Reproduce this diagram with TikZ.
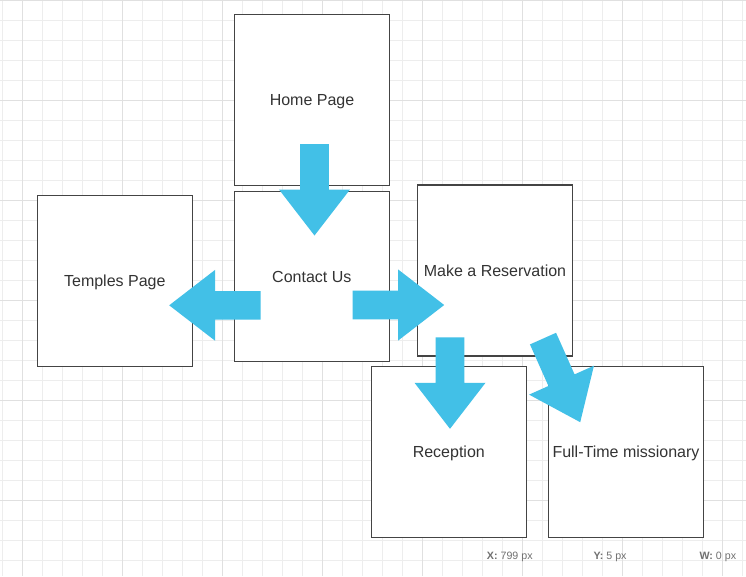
\documentclass[tikz,border=0pt]{standalone}
\usepackage{fontspec}
\setmainfont{Liberation Sans}
\definecolor{gridminor}{HTML}{EDEDED}
\definecolor{gridmajor}{HTML}{E0E0E0}
\definecolor{boxline}{HTML}{444444}
\definecolor{boxtext}{HTML}{333333}
\definecolor{arrowblue}{RGB}{66,192,231}
\definecolor{statustext}{HTML}{707070}
\tikzset{
  pagebox/.style={rectangle, draw=boxline, line width=1pt, fill=white,
    inner sep=0pt, minimum width=116.25pt, minimum height=128.25pt,
    font=\fontsize{12}{14}\selectfont, text=boxtext,
    text height=0.9em, text depth=0pt},
  status/.style={anchor=base west, inner sep=0pt,
    font=\fontsize{8}{9.5}\selectfont, text=statustext},
  % block arrow pointing down from its origin (shaft top centre)
  blockarrow/.pic={
    \fill[arrowblue] (-14.3,0) -- (14.3,0) -- (14.3,45.5) -- (35.5,45.5)
      -- (0,91.5) -- (-35.5,45.5) -- (-14.3,45.5) -- cycle;
  }
}
\begin{document}
\begin{tikzpicture}[x=0.75pt,y=-0.75pt]
\useasboundingbox (0,0) rectangle (746,576);
\fill[white] (0,0) rectangle (746,576);

% background grid
\foreach \gx in {2.7,22.7,...,742.7}
  \draw[gridminor, line width=0.75pt] (\gx,0) -- (\gx,576);
\foreach \gy in {0.7,20.7,...,570.7}
  \draw[gridminor, line width=0.75pt] (0,\gy) -- (746,\gy);
\foreach \gx in {22.7,122.7,...,722.7}
  \draw[gridmajor, line width=0.75pt] (\gx,0) -- (\gx,576);
\foreach \gy in {0.7,100.7,...,500.7}
  \draw[gridmajor, line width=0.75pt] (0,\gy) -- (746,\gy);

% pages
\node[pagebox] (home) at (312,99.8) {Home Page};
\node[pagebox, minimum height=127.5pt] (contact) at (311.8,276.2) {Contact Us};
\node[pagebox] (temples) at (114.8,280.7) {Temples Page};
\node[pagebox] (reserve) at (495,270.6) {Make a Reservation};
\node[pagebox] (reception) at (448.8,451.9) {Reception};
\node[pagebox] (fulltime) at (626,451.8) {Full-Time missionary};

% flow arrows
\pic at (314.5,144) {blockarrow};
\pic[rotate=-90] at (260.7,305.3) {blockarrow};
\pic[rotate=90] at (352.7,305) {blockarrow};
\pic at (450,337.3) {blockarrow};
\pic[rotate=24] at (543,338.6) {blockarrow};

% status bar
\node[status] (xpos) at (486.7,559.3) {\textbf{X:} 799 px};
\node[status] (ypos) at (593.3,559.3) {\textbf{Y:} 5 px};
\node[status] (wsize) at (699.3,559.3) {\textbf{W:} 0 px};
\end{tikzpicture}
\end{document}
